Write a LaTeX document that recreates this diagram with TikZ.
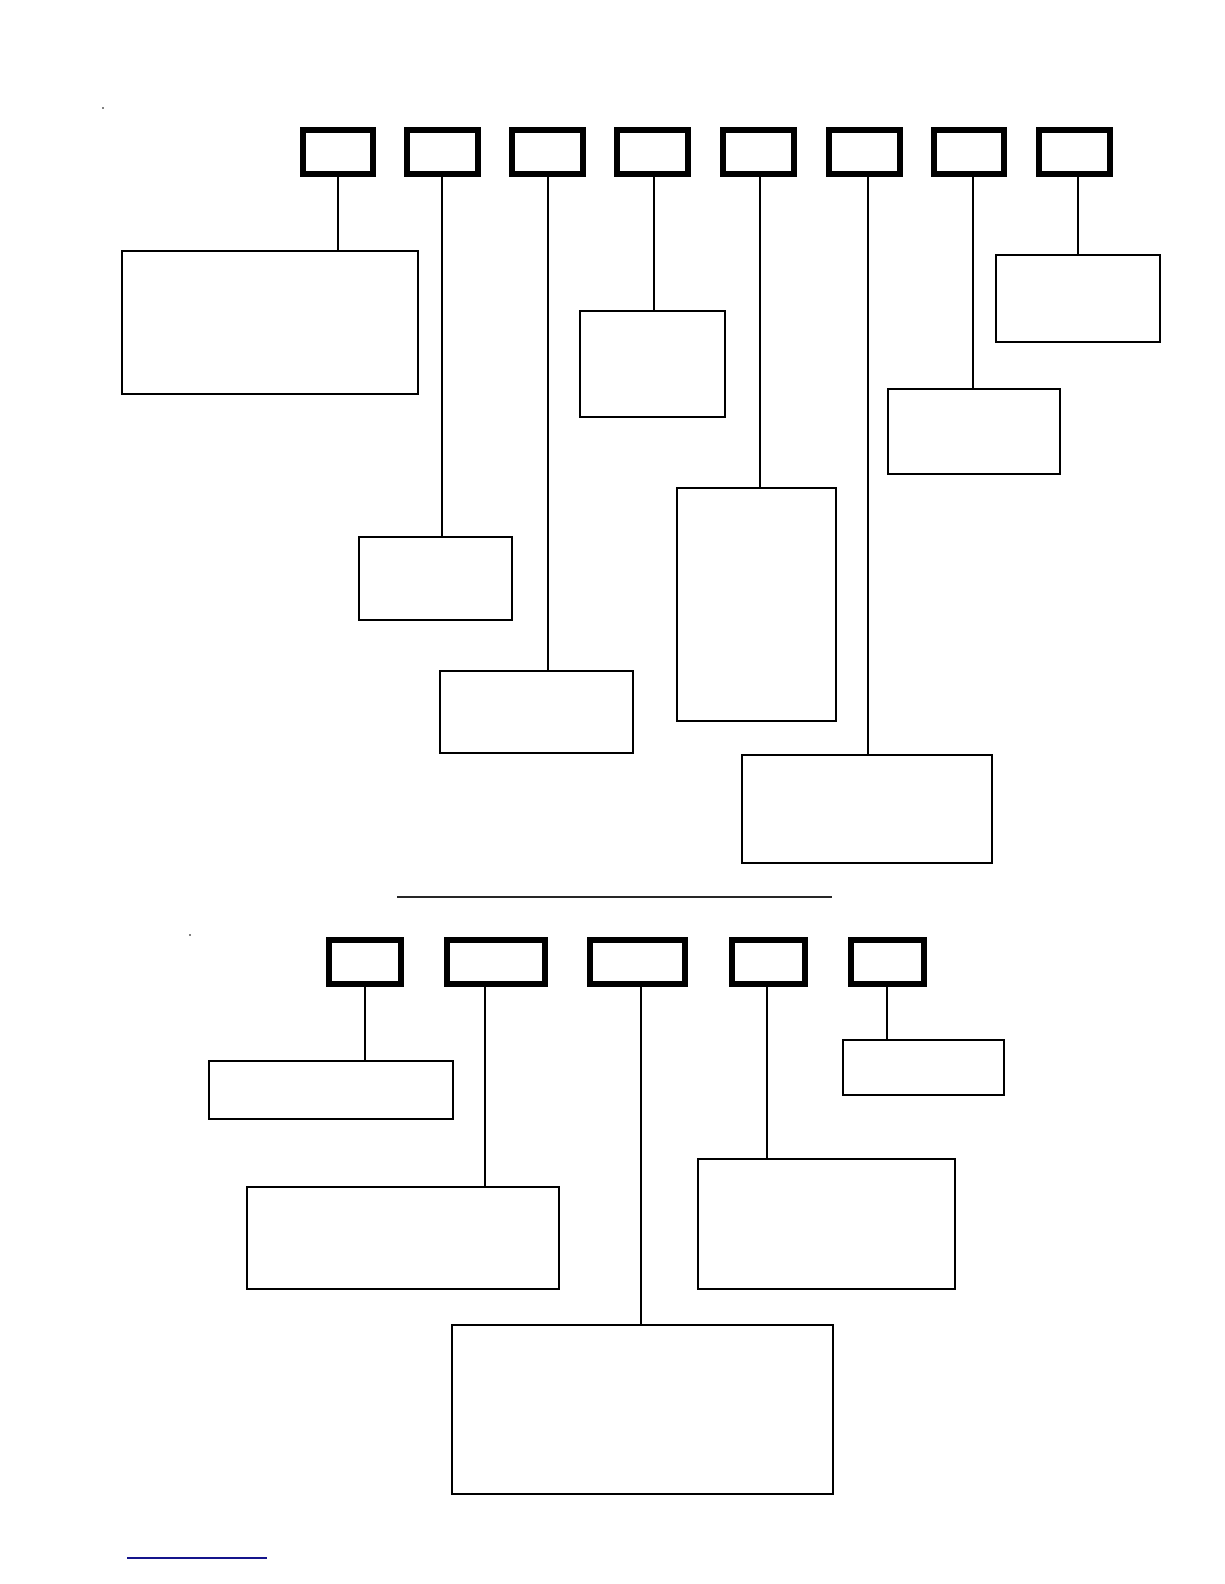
\documentclass[tikz,border=0pt]{standalone}
\begin{document}
\begin{tikzpicture}[x=1pt,y=-1pt,
  hdr/.style={draw=black,line width=6pt,inner sep=0pt,outer sep=0pt,minimum height=44pt},
  fld/.style={draw=black,line width=2pt,inner sep=0pt,outer sep=0pt},
  con/.style={draw=black,line width=2pt}]
\useasboundingbox[fill=white] (0,0) rectangle (1224,1584);
% tiny marks
\fill (103,108) circle (0.8);
\fill (190,935) circle (0.8);
% top header boxes
\node[hdr,minimum width=70pt] (t1) at (338,152) {};
\node[hdr,minimum width=71pt] (t2) at (442.5,152) {};
\node[hdr,minimum width=71pt] (t3) at (547.5,152) {};
\node[hdr,minimum width=71pt] (t4) at (652.5,152) {};
\node[hdr,minimum width=71pt] (t5) at (758.5,152) {};
\node[hdr,minimum width=71pt] (t6) at (864.5,152) {};
\node[hdr,minimum width=70pt] (t7) at (969,152) {};
\node[hdr,minimum width=71pt] (t8) at (1074.5,152) {};
% top field boxes
\node[fld,minimum width=296pt,minimum height=143pt] (fa) at (270,322.5) {};
\node[fld,minimum width=153pt,minimum height=83pt] (fb) at (435.5,578.5) {};
\node[fld,minimum width=193pt,minimum height=82pt] (fc) at (536.5,712) {};
\node[fld,minimum width=145pt,minimum height=106pt] (fd) at (652.5,364) {};
\node[fld,minimum width=159pt,minimum height=233pt] (fe) at (756.5,604.5) {};
\node[fld,minimum width=250pt,minimum height=108pt] (ff) at (867,809) {};
\node[fld,minimum width=172pt,minimum height=85pt] (fg) at (974,431.5) {};
\node[fld,minimum width=164pt,minimum height=87pt] (fh) at (1078,298.5) {};
% connector x positions
\coordinate (x1) at (338,0);
\coordinate (x2) at (442,0);
\coordinate (x3) at (548,0);
\coordinate (x4) at (654,0);
\coordinate (x5) at (760,0);
\coordinate (x6) at (868,0);
\coordinate (x7) at (973,0);
\coordinate (x8) at (1078,0);
\draw[con] (t1.south -| x1) -- (fa.north -| x1);
\draw[con] (t2.south -| x2) -- (fb.north -| x2);
\draw[con] (t3.south -| x3) -- (fc.north -| x3);
\draw[con] (t4.south -| x4) -- (fd.north -| x4);
\draw[con] (t5.south -| x5) -- (fe.north -| x5);
\draw[con] (t6.south -| x6) -- (ff.north -| x6);
\draw[con] (t7.south -| x7) -- (fg.north -| x7);
\draw[con] (t8.south -| x8) -- (fh.north -| x8);
% separator
\coordinate (s1) at (397,897);
\coordinate (s2) at (832,897);
\draw[line width=1.5pt,black!85] (s1) -- (s2);
% bottom header boxes
\node[hdr,minimum width=72pt] (u1) at (365,962) {};
\node[hdr,minimum width=98pt] (u2) at (496,962) {};
\node[hdr,minimum width=95pt] (u3) at (637.5,962) {};
\node[hdr,minimum width=73pt] (u4) at (768.5,962) {};
\node[hdr,minimum width=73pt] (u5) at (887.5,962) {};
% bottom field boxes
\node[fld,minimum width=244pt,minimum height=58pt] (ga) at (331,1090) {};
\node[fld,minimum width=312pt,minimum height=102pt] (gb) at (403,1238) {};
\node[fld,minimum width=381pt,minimum height=169pt] (gc) at (642.5,1409.5) {};
\node[fld,minimum width=257pt,minimum height=130pt] (gd) at (826.5,1224) {};
\node[fld,minimum width=161pt,minimum height=55pt] (ge) at (923.5,1067.5) {};
\coordinate (y1) at (365,0);
\coordinate (y2) at (485,0);
\coordinate (y3) at (641,0);
\coordinate (y4) at (767,0);
\coordinate (y5) at (887,0);
\draw[con] (u1.south -| y1) -- (ga.north -| y1);
\draw[con] (u2.south -| y2) -- (gb.north -| y2);
\draw[con] (u3.south -| y3) -- (gc.north -| y3);
\draw[con] (u4.south -| y4) -- (gd.north -| y4);
\draw[con] (u5.south -| y5) -- (ge.north -| y5);
% blue rule at foot
\coordinate (b1) at (127,1558);
\coordinate (b2) at (267,1558);
\draw[line width=1.5pt,color={rgb,255:red,20;green,20;blue,140}] (b1) -- (b2);
\end{tikzpicture}
\end{document}
